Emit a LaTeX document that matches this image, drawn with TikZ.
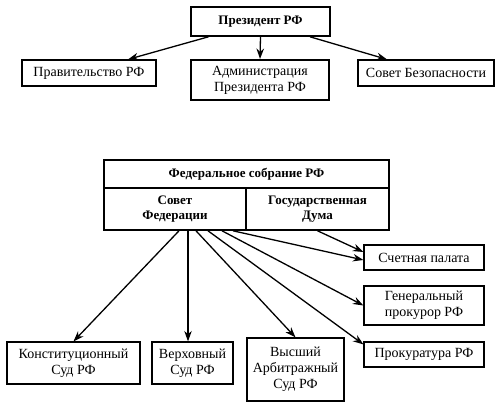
\documentclass[tikz,border=0pt]{standalone}
\usepackage{fontspec}
\setmainfont{Liberation Serif}
\usetikzlibrary{arrows.meta}
\begin{document}
\begin{tikzpicture}[x=1pt,y=-1pt,>={Stealth[length=10.5pt,width=7.5pt]},
    orgbox/.style={draw,line width=1.2pt,inner sep=0pt,align=center,font=\fontsize{14}{16}\selectfont},
    headbox/.style={orgbox,font=\fontsize{13}{15.5}\selectfont\bfseries},
    link/.style={->,line width=1.3pt}]
\useasboundingbox (0,0) rectangle (500,404);

% President and bodies under him
\node[headbox,line width=1.6pt,minimum width=139pt,minimum height=29pt] at (260.5,21.5) (pres) {Президент РФ};
\node[orgbox,minimum width=134pt,minimum height=26pt] at (89,73) (prav) {Правительство РФ};
\node[orgbox,line width=2pt,minimum width=138pt,minimum height=40pt] at (260,80) (adm) {Администрация\\Президента РФ};
\node[orgbox,minimum width=136pt,minimum height=26pt] at (426,73) (sbez) {Совет Безопасности};

\draw[link] ([xshift=-52pt]pres.south) -- ([xshift=39pt]prav.north);
\draw[link] (pres.south) -- (adm.north);
\draw[link] ([xshift=49.5pt]pres.south) -- ([xshift=-39pt]sbez.north);

% Federal assembly
\node[headbox,line width=1.6pt,minimum width=285pt,minimum height=28pt] at (246.5,174) (fsobr) {Федеральное собрание РФ};
\node[headbox,line width=1.6pt,minimum width=142pt,minimum height=42pt] at (175,209) (sfed) {Совет\\Федерации};
\node[headbox,line width=1.6pt,minimum width=143pt,minimum height=42pt] at (317.5,209) (gduma) {Государственная\\Дума};

% Bodies formed by the assembly
\node[orgbox,minimum width=120pt,minimum height=25pt] at (424,257.5) (schet) {Счетная палата};
\node[orgbox,minimum width=120pt,minimum height=39pt] at (424,305.5) (genpr) {Генеральный\\прокурор РФ};
\node[orgbox,minimum width=120pt,minimum height=25pt] at (424,354.5) (prok) {Прокуратура РФ};
\node[orgbox,minimum width=133pt,minimum height=42pt] at (73.5,363) (ksud) {Конституционный\\Суд РФ};
\node[orgbox,minimum width=81pt,minimum height=42pt] at (192.5,363) (vsud) {Верховный\\Суд РФ};
\node[orgbox,minimum width=97pt,minimum height=63pt] at (295.5,369.5) (asud) {Высший\\Арбитражный\\Суд РФ};

\draw[link] ([xshift=4pt]sfed.south) -- (ksud.north);
\draw[link] ([xshift=13pt]sfed.south) -- ([xshift=-4.5pt]vsud.north);
\draw[link] ([xshift=21pt]sfed.south) -- (asud.north);
\draw[link] ([xshift=33pt]sfed.south) -- ([yshift=-3pt]prok.north west);
\draw[link] ([xshift=47pt]sfed.south) -- (genpr.west);
\draw[link] ([xshift=58pt]sfed.south) -- ([yshift=-2.5pt]schet.west);
\draw[link] (gduma.south) -- ([yshift=5.5pt]schet.west);

\end{tikzpicture}
\end{document}
